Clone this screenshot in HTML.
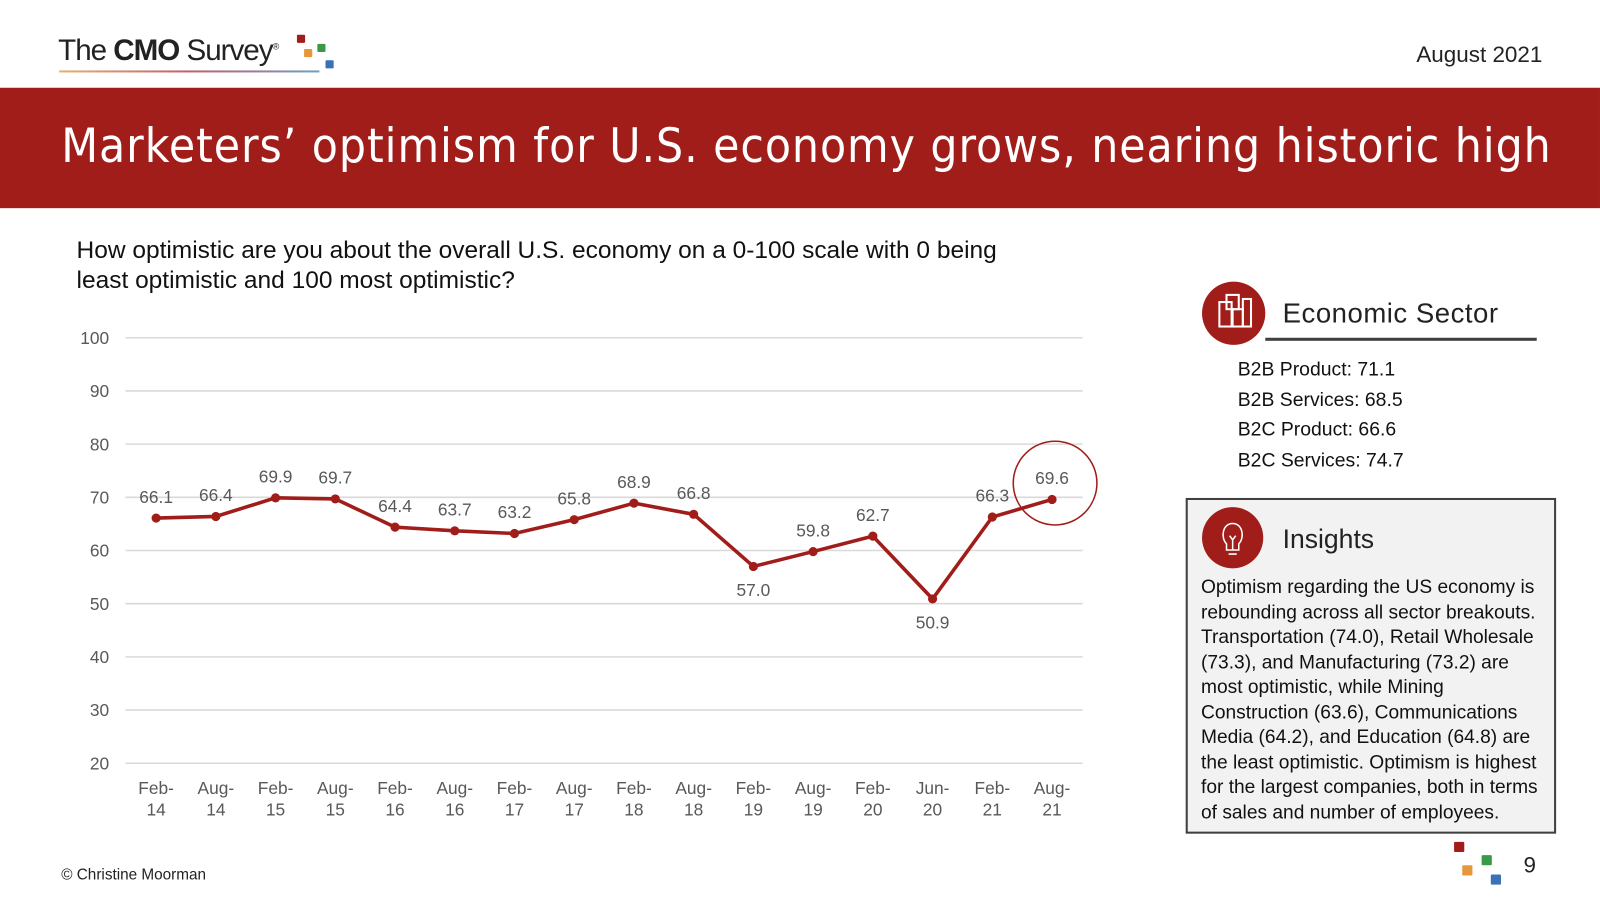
<!DOCTYPE html>
<html><head><meta charset="utf-8"><style>
body{margin:0;width:1600px;height:900px;background:#fff;font-family:"Liberation Sans",sans-serif;position:relative;overflow:hidden}
#wrap{position:absolute;left:0;top:0;width:1568px;height:882px;transform:scale(1.0204);transform-origin:0 0}
.a{position:absolute}
</style></head><body>
<div id="wrap">
<div class="a" style="left:57px;top:34px;font-size:29px;color:#222;letter-spacing:-1px;white-space:nowrap">The <b>CMO</b> Survey<sup style="font-size:9px">®</sup></div>
<div class="a" style="left:58px;top:69px;width:255px;height:2px;background:linear-gradient(90deg,#e8b070,#c06070,#70a0c0)"></div>
<div class="a" style="left:291px;top:34px;width:8px;height:8px;background:#a11d1a;border-radius:1px"></div>
<div class="a" style="left:298px;top:48px;width:8px;height:8px;background:#e6973a;border-radius:1px"></div>
<div class="a" style="left:311px;top:43px;width:8px;height:8px;background:#3a9a4a;border-radius:1px"></div>
<div class="a" style="left:319px;top:59px;width:8px;height:8px;background:#3a72b8;border-radius:1px"></div>
<div class="a" style="left:1388px;top:41px;font-size:22px;color:#222;white-space:nowrap">August 2021</div>
<div class="a" style="left:0;top:86px;width:1568px;height:118px;background:#a11d1a"></div>
<div class="a" style="left:60px;top:116px;font-size:46px;color:#fff;letter-spacing:1px;font-family:'DejaVu Sans',sans-serif;white-space:nowrap;transform:scaleX(0.911);transform-origin:left">Marketers’ optimism for U.S. economy grows, nearing historic high</div>
<div class="a" style="left:75px;top:231px;font-size:24px;color:#111;line-height:29px;width:955px">How optimistic are you about the overall U.S. economy on a 0-100 scale with 0 being least optimistic and 100 most optimistic?</div>
<svg class="a" style="left:0;top:0" width="1568" height="882" id="chart"></svg>
<div class="a" style="left:1178px;top:276px;width:62px;height:62px;border-radius:50%;background:#a11d1a"><svg width="62" height="62"><g fill="none" stroke="#fff" stroke-width="2"><rect x="17" y="20" width="12" height="24"/><rect x="24" y="13" width="12" height="14"/><rect x="30" y="27" width="10" height="17"/><rect x="40" y="17" width="8" height="27"/></g></svg></div>
<div class="a" style="left:1257px;top:292px;font-size:27px;color:#222;letter-spacing:0.5px;white-space:nowrap">Economic Sector</div>
<div class="a" style="left:1240px;top:331px;width:266px;height:3px;background:#404040"></div>
<div class="a" style="left:1213px;top:348px;font-size:19px;color:#111;line-height:29.5px">B2B Product: 71.1<br>B2B Services: 68.5<br>B2C Product: 66.6<br>B2C Services: 74.7</div>
<div class="a" style="left:1162px;top:488px;width:359px;height:325px;border:2px solid #404040;background:#f2f2f2"></div>
<div class="a" style="left:1178px;top:497px;width:60px;height:60px;border-radius:50%;background:#a11d1a"><svg width="60" height="60"><g fill="none" stroke="#fff" stroke-width="1.5"><path d="M24 36 C18 30 20 16 30 16 C40 16 42 30 36 36 L36 42 L24 42 Z"/><path d="M26 46 L34 46"/><path d="M27 28 L30 32 L33 28 M30 32 L30 42"/></g></svg></div>
<div class="a" style="left:1257px;top:513px;font-size:26px;color:#222">Insights</div>
<div class="a" style="left:1177px;top:563px;width:340px;font-size:18.8px;color:#111;line-height:24.5px;letter-spacing:0px">Optimism regarding the US economy is rebounding across all sector breakouts. Transportation (74.0), Retail Wholesale (73.3), and Manufacturing (73.2) are most optimistic, while Mining Construction (63.6), Communications Media (64.2), and Education (64.8) are the least optimistic. Optimism is highest for the largest companies, both in terms of sales and number of employees.</div>
<div class="a" style="left:60px;top:849px;font-size:15px;color:#222;white-space:nowrap">© Christine Moorman</div>
<div class="a" style="left:1425px;top:825px;width:10px;height:10px;background:#a11d1a;border-radius:1px"></div>
<div class="a" style="left:1452px;top:838px;width:10px;height:10px;background:#3a9a4a;border-radius:1px"></div>
<div class="a" style="left:1433px;top:848px;width:10px;height:10px;background:#e6973a;border-radius:1px"></div>
<div class="a" style="left:1461px;top:857px;width:10px;height:10px;background:#3a72b8;border-radius:1px"></div>
<div class="a" style="left:1493px;top:835px;font-size:22px;color:#222">9</div>
</div>
<script>
const categories=["Feb-|14","Aug-|14","Feb-|15","Aug-|15","Feb-|16","Aug-|16","Feb-|17","Aug-|17","Feb-|18","Aug-|18","Feb-|19","Aug-|19","Feb-|20","Jun-|20","Feb-|21","Aug-|21"];
const values=[66.1,66.4,69.9,69.7,64.4,63.7,63.2,65.8,68.9,66.8,57.0,59.8,62.7,50.9,66.3,69.6];
const labelBelow=[0,0,0,0,0,0,0,0,0,0,1,0,0,1,0,0];
const yTicks=[20,30,40,50,60,70,80,90,100];
const svg=document.getElementById('chart');const NS='http://www.w3.org/2000/svg';
const y=v=>748-(v-20)*(417/80);
const x=i=>153+i*(878/15);
function mk(t,a){const e=document.createElementNS(NS,t);for(const k in a)e.setAttribute(k,a[k]);svg.appendChild(e);return e;}
yTicks.forEach(t=>{
 const l=mk('line',{x1:123,x2:1061,y1:y(t),y2:y(t),stroke:'#d9d9d9','stroke-width':1.5});
 
 
 const tx=mk('text',{x:107,y:y(t)+6,'text-anchor':'end','font-size':17,fill:'#595959','font-family':'Liberation Sans'});
 tx.textContent=t;
 
 
});
categories.forEach((c,i)=>{
 const p=c.split('|');
 [0,1].forEach(j=>{const t=mk('text',{x:x(i),y:778+j*21,'text-anchor':'middle','font-size':17,fill:'#595959','font-family':'Liberation Sans'});t.textContent=p[j];
 
 });
});
const pl=mk('polyline',{points:values.map((v,i)=>x(i)+','+y(v)).join(' '),fill:'none',stroke:'#a11d1a','stroke-width':3.5});


values.forEach((v,i)=>{
 const c=mk('circle',{cx:x(i),cy:y(v),r:4.5,fill:'#a11d1a'});
 
 
 const t=mk('text',{x:x(i),y:y(v)+(labelBelow[i]?29:-15),'text-anchor':'middle','font-size':17,fill:'#595959','font-family':'Liberation Sans'});
 t.textContent=v.toFixed(1);
 
 
});
const last=values.length-1;
const hc=mk('circle',{cx:x(last)+3,cy:y(values[last])-16,r:41,fill:'none',stroke:'#a11d1a','stroke-width':1.5});


</script>
</body></html>
